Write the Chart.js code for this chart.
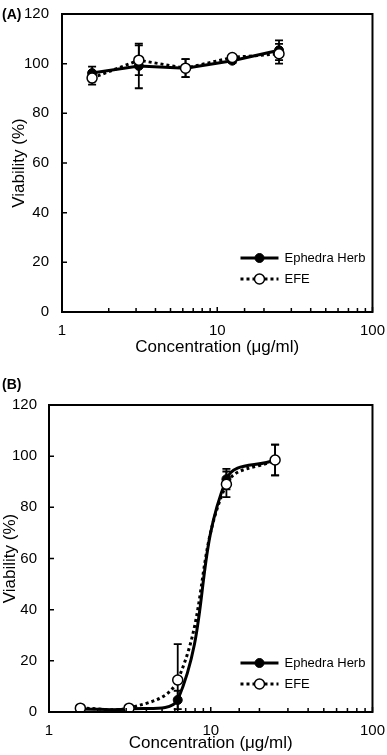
<!DOCTYPE html>
<html>
<head>
<meta charset="utf-8">
<script src="https://cdn.jsdelivr.net/npm/chart.js@4"></script>
<style>
  body { margin: 0; background: #fff; }
  canvas { display: block; }
</style>
</head>
<body>
<canvas id="chartA" width="387" height="370"></canvas>
<canvas id="chartB" width="387" height="385"></canvas>
<script>
const conc = [1.5625, 3.125, 6.25, 12.5, 25];
const herbA = [96.2, 99.1, 98.2, 101.2, 105.4];
const herbErrA = [2.6, 9, 3.6, 1, 4];
const efeA = [94.2, 101.4, 98.2, 102.5, 104];
const efeErrA = [2.6, 6, 3.6, 1, 4];
const herbB = [1.2, 1.2, 4.7, 91, 98.5];
const herbErrB = [0.5, 0.5, 3.6, 4, 6];
const efeB = [1.5, 1.5, 12.5, 89, 98.5];
const efeErrB = [0.5, 0.5, 14, 5, 6];
const yTicks = [0, 20, 40, 60, 80, 100, 120];
const xLabels = [1, 10, 100];
const seriesNames = ['Ephedra Herb', 'EFE'];

const FONT = "'Liberation Sans', Arial, sans-serif";

function points(ys) {
    return conc.map((c, i) => ({ x: c, y: ys[i] }));
}

// error bars, inward ticks, frame, panel tag, legend
const decor = {
    id: 'decor',
    beforeDatasetsDraw(chart, args, opts) {
        const ctx = chart.ctx;
        const xs = chart.scales.x, ys = chart.scales.y;
        ctx.save();
        ctx.strokeStyle = '#000';
        ctx.lineWidth = 1.8;
        chart.data.datasets.forEach(ds => {
            ds.errors.forEach((e, i) => {
                const px = xs.getPixelForValue(ds.data[i].x);
                const top = ys.getPixelForValue(ds.data[i].y + e);
                const bot = Math.min(ys.getPixelForValue(ds.data[i].y - e), chart.chartArea.bottom);
                ctx.beginPath();
                ctx.moveTo(px, top); ctx.lineTo(px, bot);
                ctx.moveTo(px - 4, top); ctx.lineTo(px + 4, top);
                if (bot < chart.chartArea.bottom) {
                    ctx.moveTo(px - 4, bot); ctx.lineTo(px + 4, bot);
                }
                ctx.stroke();
            });
        });
        ctx.restore();
    },
    afterDraw(chart, args, opts) {
        const ctx = chart.ctx;
        const a = chart.chartArea;
        const xs = chart.scales.x, ys = chart.scales.y;
        ctx.save();
        ctx.strokeStyle = '#000';
        ctx.lineWidth = 1.5;
        ctx.beginPath();
        ys.ticks.forEach(t => {
            const py = ys.getPixelForValue(t.value);
            ctx.moveTo(a.left, py); ctx.lineTo(a.left + 5, py);
        });
        xs.ticks.forEach(t => {
            const px = xs.getPixelForValue(t.value);
            const len = xLabels.includes(t.value) ? 5 : 4;
            ctx.moveTo(px, a.bottom); ctx.lineTo(px, a.bottom - len);
        });
        ctx.stroke();
        ctx.lineWidth = 2;
        ctx.strokeRect(a.left, a.top, a.right - a.left, a.bottom - a.top);

        ctx.fillStyle = '#000';
        ctx.font = 'bold 14px ' + FONT;
        ctx.textBaseline = 'middle';
        ctx.textAlign = 'left';
        ctx.fillText(opts.tag, 2, opts.tagY);

        // legend
        ctx.font = '13px ' + FONT;
        const legDs = [chart.data.datasets[1], chart.data.datasets[0]];
        legDs.forEach((ds, k) => {
            const y = a.bottom - opts.legendRows[k];
            const x1 = a.right - 132, x2 = a.right - 94;
            ctx.beginPath();
            ctx.lineWidth = ds.borderWidth;
            ctx.setLineDash(ds.borderDash || []);
            ctx.moveTo(x1, y); ctx.lineTo(x2, y);
            ctx.stroke();
            ctx.setLineDash([]);
            ctx.beginPath();
            ctx.arc((x1 + x2) / 2, y, ds.pointRadius, 0, Math.PI * 2);
            ctx.fillStyle = ds.pointBackgroundColor;
            ctx.fill();
            ctx.lineWidth = ds.pointBorderWidth;
            ctx.stroke();
            ctx.fillStyle = '#000';
            ctx.fillText(ds.label, x2 + 6, y);
        });
        ctx.restore();
    }
};

function makeChart(id, herb, herbErr, efe, efeErr, cfg) {
    return new Chart(document.getElementById(id), {
        type: 'line',
        data: {
            datasets: [
                {
                    label: seriesNames[1],
                    data: points(efe),
                    errors: efeErr,
                    borderColor: '#000',
                    borderWidth: 3,
                    borderDash: [3, 3],
                    tension: cfg.tension,
                    pointRadius: 5,
                    pointBackgroundColor: '#fff',
                    pointBorderColor: '#000',
                    pointBorderWidth: 1.5,
                    order: 0,
                },
                {
                    label: seriesNames[0],
                    data: points(herb),
                    errors: herbErr,
                    borderColor: '#000',
                    borderWidth: 3,
                    tension: cfg.tension,
                    pointRadius: 4.5,
                    pointBackgroundColor: '#000',
                    pointBorderColor: '#000',
                    pointBorderWidth: 1,
                    order: 1,
                },
            ],
        },
        options: {
            responsive: false,
            animation: false,
            devicePixelRatio: 1,
            layout: { padding: cfg.padding },
            plugins: {
                legend: { display: false },
                tooltip: { enabled: false },
                decor: { tag: cfg.tag, tagY: cfg.tagY, legendRows: cfg.legendRows },
            },
            scales: {
                x: {
                    type: 'logarithmic',
                    min: 1,
                    max: 100,
                    grid: { display: false },
                    border: { display: false },
                    ticks: {
                        autoSkip: false,
                        maxRotation: 0,
                        padding: 2,
                        color: '#000',
                        font: { family: FONT, size: 15 },
                        callback: v => xLabels.includes(v) ? String(v) : '',
                    },
                    title: {
                        display: true,
                        text: 'Concentration (μg/ml)',
                        color: '#000',
                        font: { family: FONT, size: 17 },
                        padding: { top: 0, bottom: cfg.xTitlePad },
                    },
                    afterFit: s => { s.height = cfg.xHeight; },
                },
                y: {
                    min: 0,
                    max: 120,
                    grid: { display: false },
                    border: { display: false },
                    ticks: {
                        stepSize: 20,
                        padding: cfg.yTickPad,
                        color: '#000',
                        font: { family: FONT, size: 15 },
                        callback: v => yTicks.includes(v) ? String(v) : '',
                    },
                    title: {
                        display: true,
                        text: 'Viability (%)',
                        color: '#000',
                        font: { family: FONT, size: 17 },
                        padding: { top: cfg.yTitlePad, bottom: 0 },
                    },
                    afterFit: s => { s.width = cfg.yWidth; },
                },
            },
        },
        plugins: [decor],
    });
}

makeChart('chartA', herbA, herbErrA, efeA, efeErrA, {
    tension: 0,
    padding: { top: 6, right: 13, left: 0, bottom: 0 },
    xHeight: 58, yWidth: 62, xTitlePad: 12, yTitlePad: 9, yTickPad: 5,
    tag: '(A)', tagY: 15, legendRows: [54, 33],
});

makeChart('chartB', herbB, herbErrB, efeB, efeErrB, {
    tension: 0.4,
    padding: { top: 35, right: 13, left: 0, bottom: 0 },
    xHeight: 43, yWidth: 49, xTitlePad: 1, yTitlePad: 0, yTickPad: 4,
    tag: '(B)', tagY: 15, legendRows: [49, 28],
});
</script>
</body>
</html>
